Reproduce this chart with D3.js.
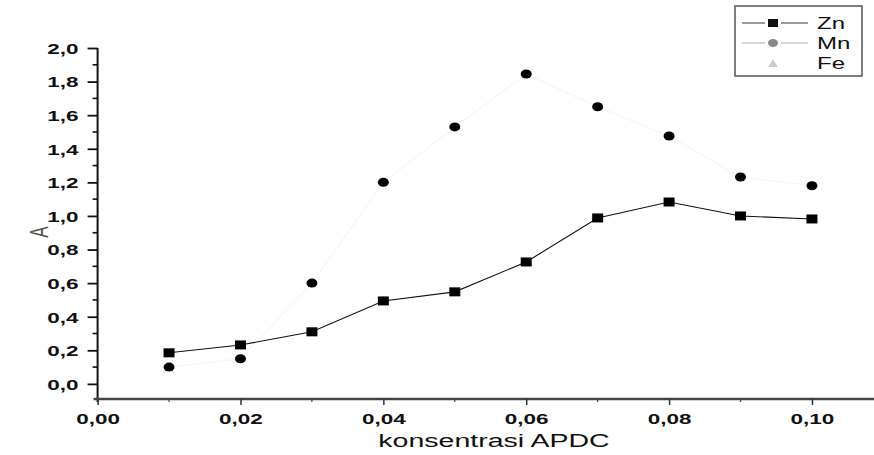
<!DOCTYPE html>
<html>
<head>
<meta charset="utf-8">
<script src="https://cdn.jsdelivr.net/npm/d3@7"></script>
<style>
body { margin: 0; background: #fff; }
svg { display: block; font-family: Arial, "Liberation Sans", sans-serif; }
</style>
</head>
<body>
<div class="chart"></div>
<script>
var konsentrasi = [0.01, 0.02, 0.03, 0.04, 0.05, 0.06, 0.07, 0.08, 0.09, 0.10];
var zn = [0.185, 0.232, 0.31, 0.494, 0.548, 0.726, 0.988, 1.083, 1.0, 0.982];
var mn = [0.10, 0.15, 0.60, 1.20, 1.53, 1.845, 1.65, 1.476, 1.232, 1.18];
var fe = [];
var xTicks = [0, 0.02, 0.04, 0.06, 0.08, 0.10];
var yTicks = [0, 0.2, 0.4, 0.6, 0.8, 1.0, 1.2, 1.4, 1.6, 1.8, 2.0];
var seriesNames = ["Zn", "Mn", "Fe"];

var width = 874, height = 455;
var stretch = 1.5; // scanned figure is wider than normal type

var svg = d3.select(".chart")
    .append("svg")
    .attr("width", width)
    .attr("height", height);

var x = d3.scaleLinear().domain([0, 0.11]).range([97.6, 883.4]);
var y = d3.scaleLinear().domain([-0.09, 2.0]).range([399, 48]);

function comma(d, n) {
    return d.toFixed(n).replace(".", ",");
}

// y axis
var yAxis = svg.append("g")
    .attr("transform", "translate(" + x(0) + ",0)")
    .call(d3.axisLeft(y).tickValues(yTicks).tickSize(10).tickPadding(0)
        .tickFormat(function (d) { return comma(d, 1); }));
yAxis.select(".domain").attr("stroke", "#111").attr("stroke-width", 2)
    .attr("d", "M0," + (y(-0.09) + 3) + "V" + y(2.0));
yAxis.selectAll(".tick line").attr("stroke", "#111").attr("stroke-width", 1.8);
yAxis.selectAll(".tick text")
    .attr("x", -19 / stretch)
    .attr("dy", "0.36em")
    .attr("transform", "scale(" + stretch + ",1)")
    .attr("fill", "#111")
    .style("font-size", "15px")
    .style("font-weight", "bold");

// minor y ticks
svg.append("g")
    .selectAll("line")
    .data(d3.range(0.1, 2.0, 0.2))
    .enter()
    .append("line")
    .attr("x1", x(0) - 5)
    .attr("x2", x(0))
    .attr("y1", function (d) { return y(d); })
    .attr("y2", function (d) { return y(d); })
    .attr("stroke", "#111")
    .attr("stroke-width", 1.6);

// x axis
var xAxis = svg.append("g")
    .attr("transform", "translate(0," + y(-0.09) + ")")
    .call(d3.axisBottom(x).tickValues(xTicks).tickSize(6).tickPadding(8)
        .tickFormat(function (d) { return comma(d, 2); }));
xAxis.select(".domain").attr("stroke", "#444").attr("stroke-width", 2.5)
    .attr("d", "M" + (x(0) - 4) + ",0H" + width);
xAxis.selectAll(".tick line").attr("stroke", "#333").attr("stroke-width", 1.5);
xAxis.selectAll(".tick text")
    .attr("transform", "scale(" + stretch + ",1)")
    .attr("fill", "#111")
    .style("font-size", "15px")
    .style("font-weight", "bold");

// minor x ticks
svg.append("g")
    .selectAll("line")
    .data(d3.range(0.01, 0.11, 0.02))
    .enter()
    .append("line")
    .attr("x1", function (d) { return x(d); })
    .attr("x2", function (d) { return x(d); })
    .attr("y1", y(-0.09))
    .attr("y2", y(-0.09) + 3)
    .attr("stroke", "#444")
    .attr("stroke-width", 1.2);

// axis titles
svg.append("text")
    .attr("transform", "translate(494,447) scale(" + stretch + ",1)")
    .attr("text-anchor", "middle")
    .attr("fill", "#111")
    .style("font-size", "19px")
    .text("konsentrasi APDC");

svg.append("text")
    .attr("transform", "translate(48,232) rotate(-90) scale(1," + stretch + ")")
    .attr("text-anchor", "middle")
    .attr("fill", "#555")
    .style("font-size", "17px")
    .text("A");

// lines
var line = d3.line()
    .x(function (d) { return x(d[0]); })
    .y(function (d) { return y(d[1]); });

// Mn line is almost lost in the scan
svg.append("path")
    .datum(d3.zip(konsentrasi, mn))
    .attr("d", line)
    .attr("fill", "none")
    .attr("stroke", "#f4f4f4")
    .attr("stroke-width", 1);

svg.append("path")
    .datum(d3.zip(konsentrasi, zn))
    .attr("d", line)
    .attr("fill", "none")
    .attr("stroke", "#111")
    .attr("stroke-width", 1.1);

// Mn points
svg.append("g")
    .selectAll("ellipse")
    .data(d3.zip(konsentrasi, mn))
    .enter()
    .append("ellipse")
    .attr("cx", function (d) { return x(d[0]); })
    .attr("cy", function (d) { return y(d[1]); })
    .attr("rx", 5.5)
    .attr("ry", 4.5)
    .attr("fill", "#000");

// Zn points
svg.append("g")
    .selectAll("rect")
    .data(d3.zip(konsentrasi, zn))
    .enter()
    .append("rect")
    .attr("x", function (d) { return x(d[0]) - 5.5; })
    .attr("y", function (d) { return y(d[1]) - 4.5; })
    .attr("width", 11)
    .attr("height", 9)
    .attr("fill", "#000");

// legend
var legend = svg.append("g");
legend.append("rect")
    .attr("x", 735).attr("y", 6)
    .attr("width", 127).attr("height", 70)
    .attr("fill", "#fff")
    .attr("stroke", "#555")
    .attr("stroke-width", 1.5);

var rows = legend.selectAll(".row")
    .data(seriesNames)
    .enter()
    .append("g")
    .attr("transform", function (d, i) { return "translate(0," + (23 + i * 20) + ")"; });

var lineColors = ["#555", "#bbb", null];
rows.each(function (d, i) {
    var g = d3.select(this);
    if (lineColors[i]) {
        g.append("line").attr("x1", 742).attr("x2", 765).attr("y1", 0).attr("y2", 0)
            .attr("stroke", lineColors[i]).attr("stroke-width", 1.2);
        g.append("line").attr("x1", 781).attr("x2", 808).attr("y1", 0).attr("y2", 0)
            .attr("stroke", lineColors[i]).attr("stroke-width", 1.2);
    }
    if (i === 0) {
        g.append("rect").attr("x", 768).attr("y", -4).attr("width", 10).attr("height", 8).attr("fill", "#111");
    } else if (i === 1) {
        g.append("ellipse").attr("cx", 773).attr("cy", 0).attr("rx", 5).attr("ry", 4).attr("fill", "#888");
    } else {
        g.append("path").attr("d", "M768,4L773,-4L778,4Z").attr("fill", "#ccc");
    }
});

rows.append("text")
    .attr("transform", "translate(817,0) scale(" + stretch + ",1)")
    .attr("dy", "0.36em")
    .attr("fill", "#111")
    .style("font-size", "16px")
    .text(function (d) { return d; });
</script>
</body>
</html>
